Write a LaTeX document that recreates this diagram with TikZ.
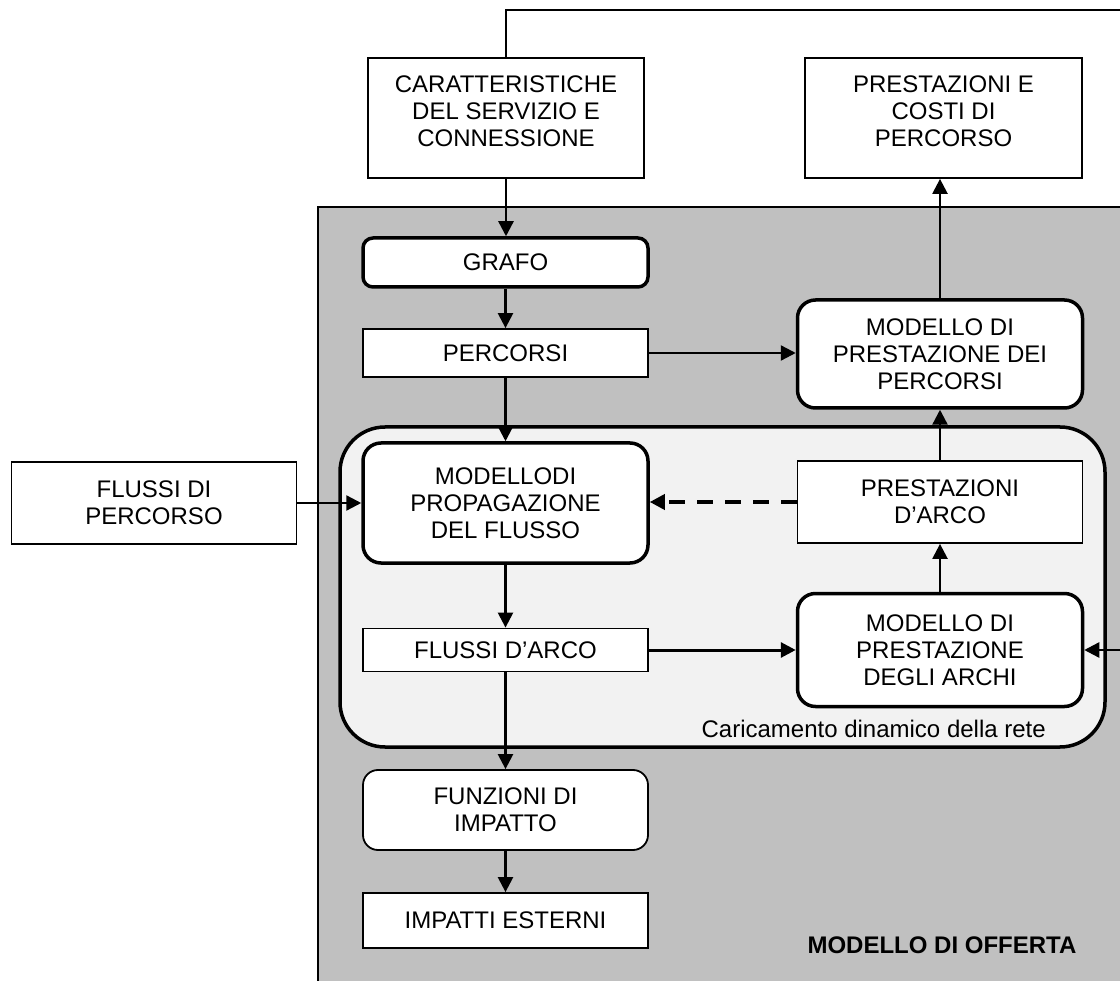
\documentclass[tikz,border=0pt]{standalone}
\usepackage{fontspec}
\setmainfont{Liberation Sans}
\usetikzlibrary{arrows.meta,
                positioning}
\definecolor{offer}{HTML}{C0C0C0}
\definecolor{loadbg}{HTML}{F2F2F2}

\begin{document}
\begin{tikzpicture}[x=1pt, y=-1pt,
every node/.style = {font=\fontsize{24}{27}\selectfont, align=center,
                     inner sep=0pt},
     box/.style = {draw, line width=1.8pt, fill=white,
                   minimum width=285pt},
    rbox/.style = {box, rounded corners=18pt, line width=3.5pt},
     top/.style = {box, minimum height=120pt, text height=72pt, text depth=14pt},
     arr/.style = {line width=2.4pt, -{Triangle[length=15pt,width=15pt]}},
                    ]
\useasboundingbox (0,0) rectangle (1120,981);
\clip (0,0) rectangle (1120,981);
% supply model area
\draw[fill=offer, line width=1.5pt] (318,207) rectangle (1140,1000);
\node[font=\bfseries\fontsize{24}{27}\selectfont] (offer) at (942,945) {MODELLO DI OFFERTA};
% dynamic loading
\node[draw, fill=loadbg, line width=3.5pt, rounded corners=45pt,
      minimum width=765pt, minimum height=320pt] (dyn) at (722.5,587) {};
\node[anchor=east] (dynlbl) at (1046,729) {Caricamento dinamico della rete};

\node[top, minimum width=276pt] (car)  at (506,118)   {CARATTERISTICHE\\DEL SERVIZIO E\\CONNESSIONE};
\node[top, minimum width=277pt] (cost) at (943.5,118) {PRESTAZIONI E\\COSTI DI\\PERCORSO};
\node[rbox, rounded corners=10pt, minimum height=49pt] (graph) at (505.5,262.5) {GRAFO};
\node[box,  minimum height=48pt]  (path)   at (505.5,353) {PERCORSI};
\node[rbox, minimum height=108pt] (pathperf) at (940,354) {MODELLO DI\\PRESTAZIONE DEI\\PERCORSI};
\node[rbox, minimum height=120pt] (prop)   at (505.5,503) {MODELLODI\\PROPAGAZIONE\\DEL FLUSSO};
\node[box,  minimum height=82pt]  (pflow)  at (154,503)   {FLUSSI DI\\PERCORSO};
\node[box,  minimum height=82pt]  (aperf)  at (940,502)   {PRESTAZIONI\\D’ARCO};
\node[rbox, minimum height=113pt] (arcmod) at (940,650)   {MODELLO DI\\PRESTAZIONE\\DEGLI ARCHI};
\node[box,  minimum height=43pt]  (aflow)  at (505.5,650) {FLUSSI D’ARCO};
\node[box,  rounded corners=15pt, minimum height=80pt] (impf) at (505.5,810) {FUNZIONI DI\\IMPATTO};
\node[box,  minimum height=55pt]  (impe)   at (505.5,920.5) {IMPATTI ESTERNI};

\coordinate (fb) at (1135,10);

\draw[arr] (car)      -- (graph.north -| car);
\draw[arr] (graph)    -- (path);
\draw[arr] (path)     -- (prop);
\draw[arr] (path)     -- (pathperf.west |- path);
\draw[arr] (pathperf) -- (cost.south -| pathperf);
\draw[arr] (pflow)    -- (prop.west |- pflow);
\draw[arr, line width=3.5pt, dash pattern=on 16pt off 12pt]
           (aperf)    -- (prop.east |- aperf);
\draw[arr] (aperf)    -- (pathperf);
\draw[arr] (arcmod)   -- (aperf);
\draw[arr] (prop)     -- (aflow);
\draw[arr, line width=3pt] (aflow) -- (arcmod);
\draw[arr] (aflow)    -- (impf);
\draw[arr] (impf)     -- (impe);
\draw[arr] (car.north) |- (fb) |- (arcmod.east);
    \end{tikzpicture}
\end{document}
